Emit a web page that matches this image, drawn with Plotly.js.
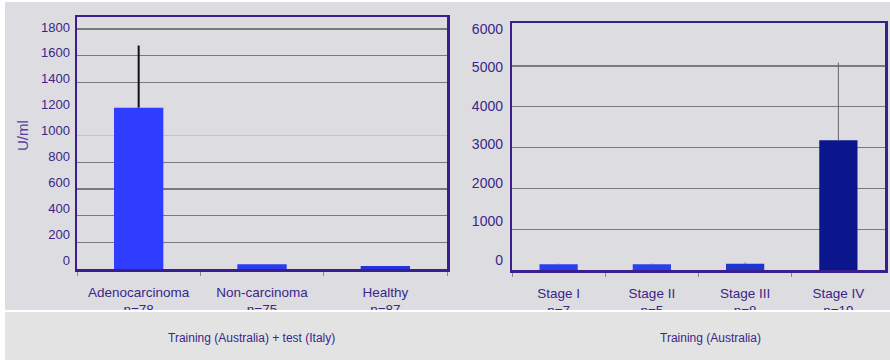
<!DOCTYPE html>
<html>
<head>
<meta charset="utf-8">
<script src="https://cdn.plot.ly/plotly-3.0.1.min.js"></script>
<style>html,body{margin:0;padding:0;background:#dddce1;}#chart{width:890px;height:360px;}</style>
</head>
<body>
<div id="chart"></div>
<script>
// Left panel: Training (Australia) + test (Italy)
const leftCategories = ["Adenocarcinoma<br>n=78", "Non-carcinoma<br>n=75", "Healthy<br>n=87"];
const leftValues = [1210, 35, 22];
const leftErrors = [466, 0, 0];
const leftTicks = [0, 200, 400, 600, 800, 1000, 1200, 1400, 1600, 1800];
const leftGrid = [200, 400, 600, 800, 1400, 1600, 1800];
const leftColors = ["#2e3dff", "#2b3bf0", "#2232dc"];

// Right panel: Training (Australia)
const rightCategories = ["Stage I<br>n=7", "Stage II<br>n=5", "Stage III<br>n=8", "Stage IV<br>n=19"];
const rightValues = [140, 140, 155, 3180];
const rightErrors = [15, 15, 30, 1900];
const rightTicks = [0, 1000, 2000, 3000, 4000, 5000, 6000];
const rightGrid = [1000, 2000, 3000, 4000, 5000];
const rightColors = ["#2a40ee", "#2a40ea", "#1c34d0", "#0c168c"];

const leftTitle = "Training (Australia) + test (Italy)";
const rightTitle = "Training (Australia)";
const yTitle = "U/ml";

const txt = "#3a2688";
const frame = "#3a1f8c";
const font = "Liberation Sans, Arial, sans-serif";
const W = 890, H = 360;
const px = v => v / W;
const py = v => 1 - v / H;

const traces = [
  {type: "bar", x: leftCategories, y: leftValues, xaxis: "x", yaxis: "y", width: 0.4,
   marker: {color: leftColors, line: {width: 0}},
   error_y: {type: "data", array: leftErrors, symmetric: false, arrayminus: [0, 0, 0], visible: true, color: "#111", thickness: 2, width: 0},
   hoverinfo: "skip"},
  {type: "bar", x: rightCategories, y: rightValues, xaxis: "x2", yaxis: "y2", width: 0.41,
   marker: {color: rightColors, line: {width: 0}},
   error_y: {type: "data", array: rightErrors, symmetric: false, arrayminus: [0,0,0,0], visible: true, color: "#666", thickness: 1, width: 0},
   hoverinfo: "skip"},
  // invisible traces carrying the tick-label axes
  {type: "scatter", x: [leftCategories[0]], y: [0], xaxis: "x", yaxis: "y3", mode: "markers",
   marker: {opacity: 0}, hoverinfo: "skip", showlegend: false},
  {type: "scatter", x: [rightCategories[0]], y: [0], xaxis: "x2", yaxis: "y4", mode: "markers",
   marker: {opacity: 0}, hoverinfo: "skip", showlegend: false}
];

const xCommon = {
  type: "category", showline: true, mirror: true, linecolor: frame, linewidth: 2.5,
  ticks: "outside", tickson: "boundaries", ticklen: 4, tickcolor: "#888", tickwidth: 1,
  tickfont: {family: font, size: 13.5, color: txt}, ticklabelstandoff: 9,
  showgrid: false, zeroline: false, fixedrange: true
};

const layout = {
  width: W, height: H,
  margin: {l: 0, r: 0, t: 0, b: 0},
  paper_bgcolor: "#dddce1", plot_bgcolor: "#dddce1",
  showlegend: false,
  xaxis: Object.assign({}, xCommon, {domain: [px(77), px(447)], anchor: "y"}),
  yaxis: {domain: [py(269), py(17)], anchor: "x", range: [0, 1890],
    tickmode: "array", tickvals: leftGrid, showticklabels: false, ticks: "",
    showgrid: true, gridcolor: "#7a7a7a", gridwidth: 1.3,
    minor: {tickmode: "array", tickvals: [1000], showgrid: true, gridcolor: "#c4c4c8", gridwidth: 1},
    showline: true, mirror: true, linecolor: frame, linewidth: 2.5, zeroline: false, fixedrange: true},
  yaxis3: {overlaying: "y", anchor: "x", side: "left", range: [-69.5, 1877],
    tickmode: "array", tickvals: leftTicks, showgrid: false, zeroline: false, showline: false,
    ticks: "", tickfont: {family: font, size: 13, color: txt}, ticklabelstandoff: 6, fixedrange: true},
  xaxis2: Object.assign({}, xCommon, {domain: [px(512), px(885)], anchor: "y2"}),
  yaxis2: {domain: [py(270), py(23)], anchor: "x2", range: [0, 6050],
    tickmode: "array", tickvals: rightGrid, showticklabels: false, ticks: "",
    showgrid: true, gridcolor: "#7a7a7a", gridwidth: 1.3,
    showline: true, mirror: true, linecolor: frame, linewidth: 2.5, zeroline: false, fixedrange: true},
  yaxis4: {overlaying: "y2", anchor: "x2", side: "left", range: [-260, 6156],
    tickmode: "array", tickvals: rightTicks, showgrid: false, zeroline: false, showline: false,
    ticks: "", tickfont: {family: font, size: 14, color: txt}, ticklabelstandoff: 8, fixedrange: true},
  shapes: [
    {type: "rect", xref: "paper", yref: "paper", x0: 0, x1: 1, y0: 0, y1: py(311), fillcolor: "#e3e3e4", line: {width: 0}, layer: "above"},
    {type: "rect", xref: "paper", yref: "paper", x0: px(5), x1: 1, y0: py(312), y1: py(310), fillcolor: "#ffffff", line: {width: 0}, layer: "above"},
    {type: "rect", xref: "paper", yref: "paper", x0: 0, x1: px(5), y0: 0, y1: 1, fillcolor: "#ffffff", line: {width: 0}, layer: "above"},
    {type: "rect", xref: "paper", yref: "paper", x0: 0, x1: 1, y0: py(2), y1: 1, fillcolor: "#ffffff", line: {width: 0}, layer: "above"}
  ],
  annotations: [
    {text: leftTitle, xref: "paper", yref: "paper", x: px(251), y: py(338), xanchor: "center", yanchor: "middle",
     showarrow: false, font: {family: font, size: 12, color: txt}},
    {text: rightTitle, xref: "paper", yref: "paper", x: px(710), y: py(338), xanchor: "center", yanchor: "middle",
     showarrow: false, font: {family: font, size: 12, color: txt}},
    {text: yTitle, xref: "paper", yref: "paper", x: px(22), y: py(136), xanchor: "center", yanchor: "middle",
     textangle: -90, showarrow: false, font: {family: font, size: 15, color: "#5a3fa0"}}
  ]
};

Plotly.newPlot("chart", traces, layout, {displayModeBar: false, staticPlot: true});
</script>
</body>
</html>
